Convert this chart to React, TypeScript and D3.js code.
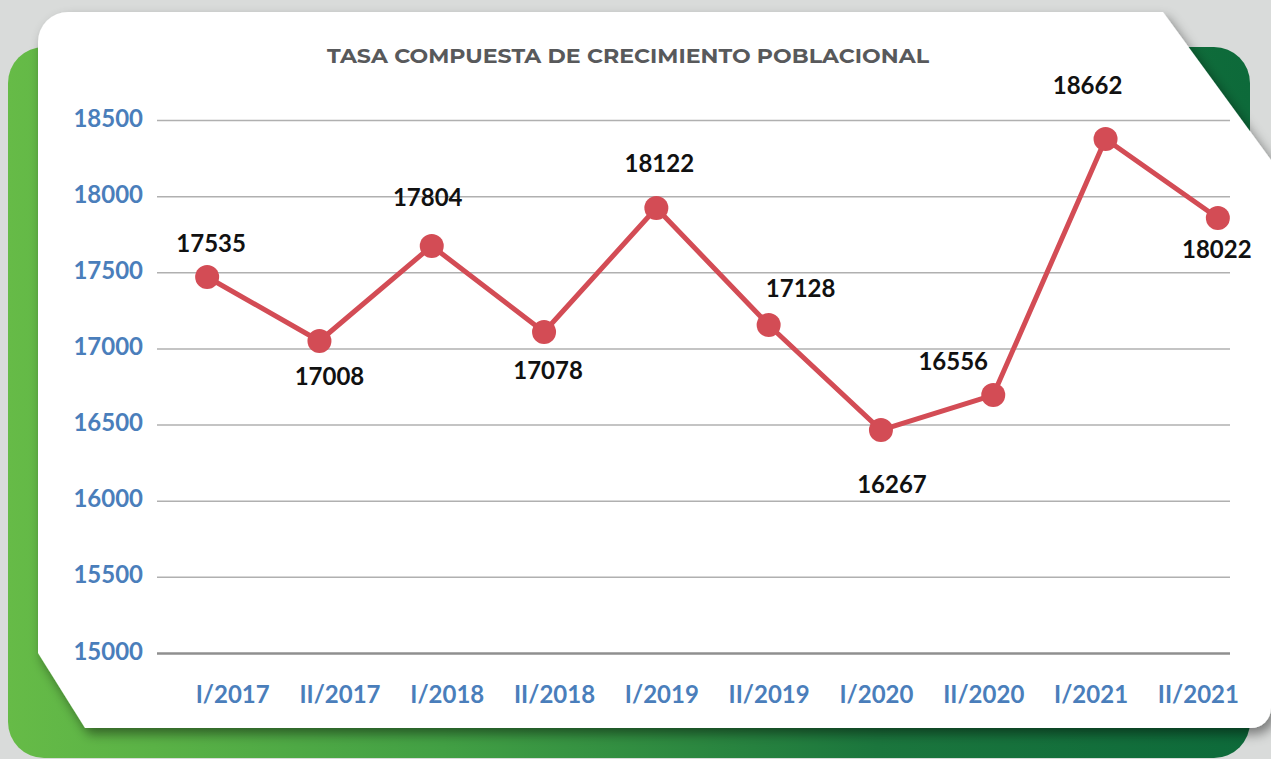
import React, { useRef, useEffect } from 'react'
import * as d3 from 'd3'

const categories = ['I/2017', 'II/2017', 'I/2018', 'II/2018', 'I/2019', 'II/2019', 'I/2020', 'II/2020', 'I/2021', 'II/2021']
// where the markers sit on the value axis
const plotted = [17469, 17049, 17673, 17108, 17922, 17154, 16464, 16694, 18375, 17856]
// the numbers printed next to each marker
const labelValues = [17535, 17008, 17804, 17078, 18122, 17128, 16267, 16556, 18662, 18022]
const yTicks = [15000, 15500, 16000, 16500, 17000, 17500, 18000, 18500]
const title = 'TASA COMPUESTA DE CRECIMIENTO POBLACIONAL'

// label placement relative to its marker (dx, baseline dy)
const labelOffsets = [[4, -25], [10, 44], [-4, -40], [4, 47], [3, -36], [32, -28], [11, 63], [-40, -25], [-18, -45], [-1, 40]]

const W = 1271
const H = 759
const font = 'Lato, "Open Sans", sans-serif'

export default function App() {
  const canvas = useRef(null)

  useEffect(() => {
    document.body.style.margin = '0'
    document.body.style.overflow = 'hidden'

    const svg = d3.select(canvas.current)
    svg.selectAll('*').remove()

    const defs = svg.append('defs')
    const grad = defs.append('linearGradient').attr('id', 'greenGrad').attr('x1', 0).attr('x2', 1).attr('y1', 0).attr('y2', 0)
    grad.append('stop').attr('offset', '0%').attr('stop-color', '#66bb47')
    grad.append('stop').attr('offset', '35%').attr('stop-color', '#42a044')
    grad.append('stop').attr('offset', '70%').attr('stop-color', '#1b763d')
    grad.append('stop').attr('offset', '100%').attr('stop-color', '#0d6a3a')

    const shadow = defs.append('filter').attr('id', 'cardShadow').attr('x', '-10%').attr('y', '-10%').attr('width', '120%').attr('height', '130%')
    shadow.append('feDropShadow').attr('dx', 4).attr('dy', 6).attr('stdDeviation', 6).attr('flood-color', '#000').attr('flood-opacity', 0.45)

    // page + cards
    svg.append('rect').attr('width', W).attr('height', H).attr('fill', '#d9dbda')
    svg.append('rect').attr('x', 8).attr('y', 47).attr('width', 1242).attr('height', 711).attr('rx', 36).attr('fill', 'url(#greenGrad)')

    const card = d3.path()
    card.moveTo(38, 42)
    card.arcTo(38, 12, 68, 12, 30)
    card.lineTo(1163, 12)
    card.lineTo(1271, 160)
    card.lineTo(1271, 708)
    card.arcTo(1271, 728, 1251, 728, 20)
    card.lineTo(85, 728)
    card.lineTo(38, 653)
    card.closePath()
    svg.append('path').attr('d', card.toString()).attr('fill', '#ffffff').attr('filter', 'url(#cardShadow)')

    svg.append('text')
      .attr('x', 628).attr('y', 63)
      .attr('text-anchor', 'middle')
      .attr('textLength', 602).attr('lengthAdjust', 'spacingAndGlyphs')
      .style('font-family', 'Montserrat, Lato, "Open Sans", sans-serif')
      .style('font-weight', 700).style('font-size', '20.5px')
      .attr('fill', '#58595b')
      .text(title)

    const gridLeft = 157
    const gridRight = 1230

    const y = d3.scaleLinear().domain([15000, 18500]).range([653, 120])
    const x = d3.scaleBand().domain(categories).range([151, 1274])
    const xLab = d3.scaleBand().domain(categories).range([179, 1252])
    const cx = (c) => x(c) + x.bandwidth() / 2

    // y axis + gridlines
    const yAxis = svg.append('g').attr('transform', `translate(${gridLeft},0)`)
      .call(d3.axisLeft(y).tickValues(yTicks).tickSize(-(gridRight - gridLeft)).tickPadding(14).tickFormat(d3.format('d')))
    yAxis.select('.domain').remove()
    yAxis.selectAll('.tick line')
      .attr('stroke', d => d === 15000 ? '#8f8f8f' : '#b0b0b0')
      .attr('stroke-width', d => d === 15000 ? 2.5 : 1.5)
    yAxis.selectAll('.tick text')
      .attr('dy', '0.25em')
      .attr('fill', '#4a7ebb')
      .style('font-family', font).style('font-weight', 700).style('font-size', '24px')

    // x axis labels
    const xAxis = svg.append('g').attr('transform', 'translate(0,653)')
      .call(d3.axisBottom(xLab).tickSize(0).tickPadding(33))
    xAxis.select('.domain').remove()
    xAxis.selectAll('.tick text')
      .attr('fill', '#4a7ebb')
      .style('font-family', font).style('font-weight', 700).style('font-size', '24px')

    // series
    const rows = categories.map((c, i) => ({ c, v: plotted[i], label: labelValues[i], off: labelOffsets[i] }))
    const line = d3.line().x(d => cx(d.c)).y(d => y(d.v))
    svg.append('path').datum(rows)
      .attr('d', line)
      .attr('fill', 'none').attr('stroke', '#d34c55').attr('stroke-width', 5).attr('stroke-linejoin', 'round')

    svg.selectAll('circle.pt').data(rows).enter().append('circle')
      .attr('class', 'pt')
      .attr('cx', d => cx(d.c)).attr('cy', d => y(d.v)).attr('r', 12)
      .attr('fill', '#d34c55')

    svg.selectAll('text.lbl').data(rows).enter().append('text')
      .attr('class', 'lbl')
      .attr('x', d => cx(d.c) + d.off[0]).attr('y', d => y(d.v) + d.off[1])
      .attr('text-anchor', 'middle')
      .attr('fill', '#111111')
      .style('font-family', font).style('font-weight', 700).style('font-size', '24px')
      .text(d => d.label)
  })

  return (
    <svg ref={canvas} width={W} height={H} style={{ display: 'block' }} />
  )
}
